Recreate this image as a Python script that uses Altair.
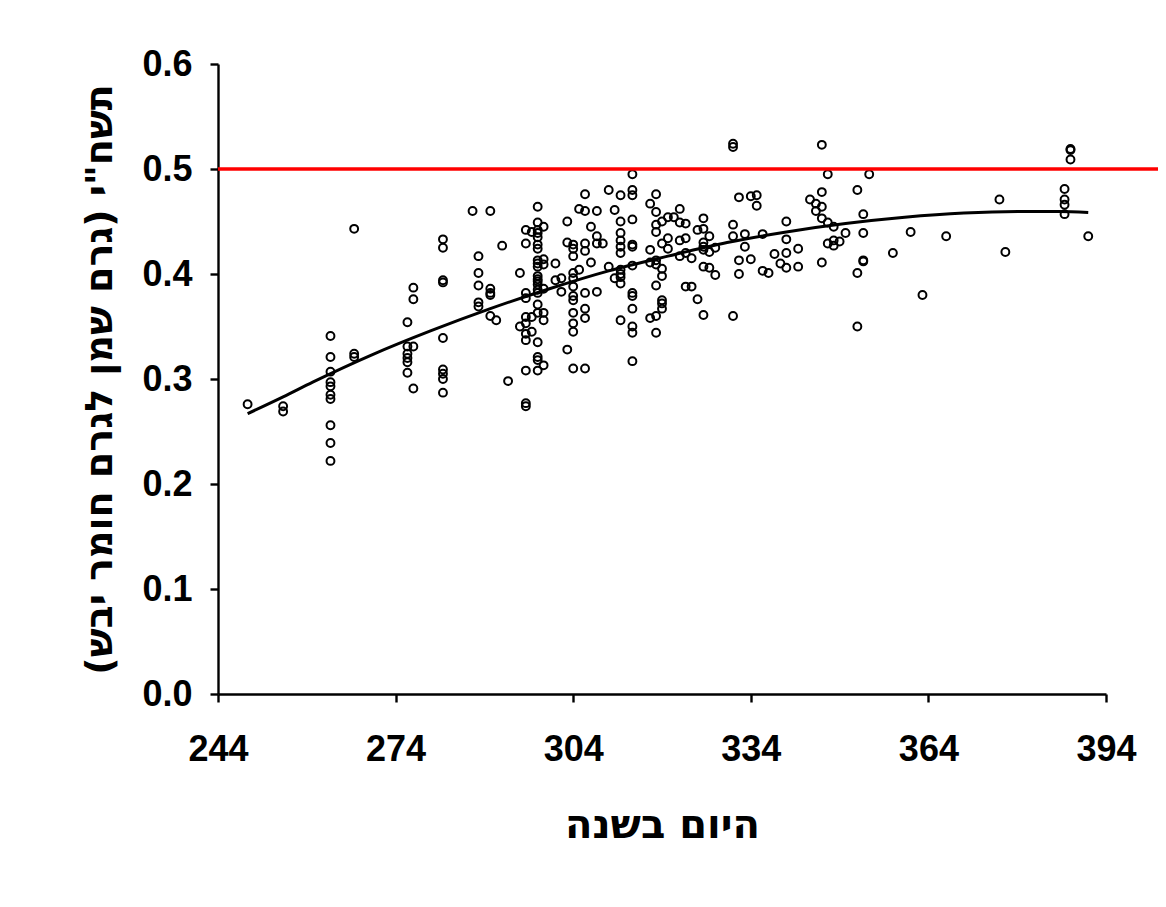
import altair as alt
import pandas as pd

# Scatter columns: day of year and the fat / dry matter ratios observed on that day
scatter_days = [249, 255, 263, 267, 276, 277, 282, 287, 288, 290, 291, 292, 293, 295, 296, 297, 298, 299,
                301, 302, 303, 304, 305, 306, 307, 308, 309, 310, 311, 312, 314, 317, 318, 319, 320, 321,
                322, 323, 324, 325, 326, 327, 328, 331, 332, 333, 334, 335, 336, 337, 338, 339, 340, 342,
                344, 345, 346, 347, 348, 349, 350, 352, 353, 354, 358, 361, 363, 367, 376, 377, 387, 388, 391]
scatter_values = [
    [0.276],
    [0.274, 0.269],
    [0.341, 0.321, 0.307, 0.297, 0.293, 0.285, 0.281, 0.256, 0.239, 0.222],
    [0.443, 0.324, 0.321],
    [0.354, 0.331, 0.324, 0.320, 0.316, 0.306],
    [0.387, 0.376, 0.331, 0.291],
    [0.433, 0.425, 0.394, 0.392, 0.339, 0.309, 0.305, 0.300, 0.287],
    [0.460],
    [0.417, 0.401, 0.389, 0.373, 0.369],
    [0.460, 0.386, 0.382, 0.380, 0.360],
    [0.356],
    [0.427],
    [0.298],
    [0.401, 0.350],
    [0.442, 0.429, 0.382, 0.377, 0.359, 0.353, 0.343, 0.337, 0.308, 0.277, 0.274],
    [0.440, 0.359, 0.345],
    [0.464, 0.449, 0.442, 0.439, 0.435, 0.428, 0.424, 0.413, 0.410, 0.407, 0.398, 0.395, 0.393,
     0.390, 0.385, 0.382, 0.371, 0.363, 0.335, 0.321, 0.318, 0.308],
    [0.445, 0.414, 0.409, 0.386, 0.363, 0.356, 0.313],
    [0.410, 0.394],
    [0.396, 0.383],
    [0.450, 0.430, 0.328],
    [0.428, 0.424, 0.417, 0.401, 0.396, 0.388, 0.379, 0.375, 0.363, 0.353, 0.345, 0.310],
    [0.462, 0.404],
    [0.476, 0.460, 0.429, 0.422, 0.382, 0.367, 0.358, 0.310],
    [0.445, 0.411],
    [0.460, 0.436, 0.429, 0.383],
    [0.429],
    [0.480, 0.407],
    [0.461, 0.396],
    [0.475, 0.450, 0.439, 0.432, 0.426, 0.420, 0.404, 0.400, 0.397, 0.391, 0.356],
    [0.495, 0.480, 0.475, 0.452, 0.428, 0.426, 0.408, 0.382, 0.379, 0.367, 0.350, 0.344, 0.317],
    [0.467, 0.423, 0.411, 0.358],
    [0.476, 0.459, 0.447, 0.440, 0.413, 0.409, 0.389, 0.360, 0.344],
    [0.450, 0.429, 0.405, 0.398, 0.375, 0.372, 0.367],
    [0.454, 0.434, 0.424],
    [0.454],
    [0.462, 0.449, 0.432, 0.417],
    [0.448, 0.434, 0.420, 0.388],
    [0.415, 0.388],
    [0.442, 0.376],
    [0.453, 0.443, 0.430, 0.426, 0.423, 0.407, 0.361],
    [0.436, 0.421, 0.406],
    [0.425, 0.399],
    [0.524, 0.521, 0.447, 0.436, 0.360],
    [0.473, 0.413, 0.400],
    [0.438, 0.426],
    [0.474, 0.414],
    [0.475, 0.465],
    [0.438, 0.403],
    [0.401],
    [0.419],
    [0.410],
    [0.450, 0.433, 0.420, 0.406],
    [0.424, 0.407],
    [0.471],
    [0.467, 0.460],
    [0.523, 0.478, 0.464, 0.453, 0.411],
    [0.495, 0.449, 0.429],
    [0.445, 0.432, 0.427],
    [0.431],
    [0.439],
    [0.480, 0.401, 0.350],
    [0.457, 0.439, 0.413, 0.412],
    [0.495],
    [0.420],
    [0.440],
    [0.380],
    [0.436],
    [0.471],
    [0.421],
    [0.481, 0.471, 0.466, 0.457],
    [0.519, 0.518, 0.509],
    [0.436],
]

# Trend curve
trend_days = [249, 255, 260, 270, 280, 290, 300, 310, 320, 330, 340, 350, 360, 370, 380, 386, 391]
trend_values = [0.267, 0.283, 0.297, 0.323, 0.346, 0.367, 0.386, 0.403, 0.417, 0.430, 0.440, 0.448,
                0.454, 0.458, 0.4595, 0.4595, 0.4585]

# Red threshold line
threshold_value = 0.5
threshold_start = 244
threshold_end = 404

x_ticks = [244, 274, 304, 334, 364, 394]
y_ticks = [0.0, 0.1, 0.2, 0.3, 0.4, 0.5, 0.6]

x_title = "היום בשנה"
y_title = 'תשח"י (גרם שמן לגרם חומר יבש)'

rows = []
for d, vals in zip(scatter_days, scatter_values):
    for v in vals:
        rows.append({"day": d, "ratio": v})
scatter_df = pd.DataFrame(rows)
trend_df = pd.DataFrame({"day": trend_days, "ratio": trend_values})
thr_df = pd.DataFrame({"x": [threshold_start], "x2": [threshold_end], "y": [threshold_value]})

LABEL_FONT = "Liberation Sans, DejaVu Sans, sans-serif"
TITLE_FONT = "DejaVu Sans, Liberation Sans, sans-serif"

x_scale = alt.Scale(domain=[244, 394], nice=False, zero=False)
y_scale = alt.Scale(domain=[0, 0.6], nice=False)

x_axis = alt.Axis(values=x_ticks, title=x_title, grid=False, format="d", labelFlush=False,
                  labelPadding=30, titlePadding=38, titleFontSize=40)
y_axis = alt.Axis(values=y_ticks, title=y_title, grid=False, format=".1f", labelFlush=False,
                  labelPadding=18, titlePadding=22, titleFontSize=38)

points = alt.Chart(scatter_df).mark_point(
    shape="circle", filled=False, color="black", size=62, strokeWidth=2, opacity=1
).encode(
    x=alt.X("day:Q", scale=x_scale, axis=x_axis),
    y=alt.Y("ratio:Q", scale=y_scale, axis=y_axis),
)

trend = alt.Chart(trend_df).mark_line(color="black", strokeWidth=3, interpolate="monotone").encode(
    x=alt.X("day:Q", scale=x_scale),
    y=alt.Y("ratio:Q", scale=y_scale),
)

threshold = alt.Chart(thr_df).mark_rule(color="#ff0000", strokeWidth=3.5).encode(
    x=alt.X("x:Q", scale=x_scale),
    x2="x2:Q",
    y=alt.Y("y:Q", scale=y_scale),
)

chart = alt.layer(points, trend, threshold).properties(
    width=888,
    height=630,
    autosize=alt.AutoSizeParams(type="none"),
    padding={"left": 210, "top": 56, "right": 52, "bottom": 190},
    background="white",
).configure_view(
    stroke=None
).configure_axis(
    domainColor="black", domainWidth=2.4, tickColor="black", tickWidth=2.4, tickSize=8,
    labelFont=LABEL_FONT, labelFontSize=36, labelFontWeight="bold", labelColor="black",
    titleFont=TITLE_FONT, titleFontWeight="bold", titleColor="black",
)

chart.save("out.html", embed_options={"renderer": "svg", "actions": False})
